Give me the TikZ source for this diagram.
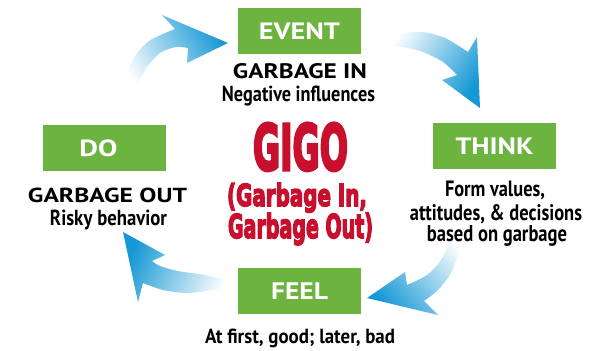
\documentclass[tikz,border=0pt]{standalone}
\usepackage{graphicx}
\usepackage{fontspec}
\setmainfont{PT Sans}
\newfontfamily\gigofont[FakeBold=5]{DejaVu Sans Bold}
\definecolor{boxgreen}{RGB}{109,179,63}
\definecolor{arrowblue}{RGB}{22,152,213}
\definecolor{gigored}{RGB}{200,16,46}
\newcommand\fitbox[3]{\resizebox{#1}{#2}{#3}}
\tikzset{
  gbox/.style={fill=boxgreen, text=white, inner sep=0pt, minimum width=123pt, minimum height=46pt, font=\bfseries},
  txt/.style={inner sep=0pt, anchor=base, font=\bfseries},
  gigotxt/.style={inner sep=0pt, anchor=base, text=gigored, font=\gigofont},
  arrowfill/.style={top color=arrowblue, bottom color=white, shading angle=#1},
}
\begin{document}
\begin{tikzpicture}[x=1pt,y=-1pt]
\useasboundingbox (0,0) rectangle (601,350);
% arrows
\shade[arrowfill=-59] (127,104) -- plot[smooth] coordinates {(126,95) (126,78) (133,59) (149,41) (175,29)}
  -- (162,15) -- (228,43) -- (187,63) -- (188,48)
  -- plot[smooth] coordinates {(188,48) (176,47) (160,53) (147,67) (138,84) (130,100)} -- cycle;
\shade[arrowfill=-123] (379,44) -- plot[smooth] coordinates {(380,42) (400,34) (422,32) (445,38) (468,52)}
  -- (477,37) -- (480,108) -- (442,80) -- (457,75)
  -- plot[smooth] coordinates {(457,75) (443,62) (423,52) (402,47) (381,46)} -- cycle;
\shade[arrowfill=130] (458,219) -- plot[smooth] coordinates {(461,222) (459,250) (451,273) (438,290) (424,301)}
  -- (438,315) -- (367,298) -- (405,272) -- (407,285)
  -- plot[smooth] coordinates {(407,285) (427,275) (441,260) (450,240) (455,222)} -- cycle;
\shade[arrowfill=66] (234,283) -- plot[smooth] coordinates {(232,281) (205,275) (178,271) (160,266) (152,261)}
  -- (165,255) -- (123,232) -- (138,302) -- (143,283)
  -- plot[smooth] coordinates {(143,283) (163,290) (187,293) (213,290) (232,285)} -- cycle;
% boxes
\node[gbox] (event) at (299.5,31) {\fitbox{81pt}{16.7pt}{EVENT}};
\node[gbox] (do) at (104.5,148) {\hspace*{-12pt}\fitbox{38pt}{16.7pt}{DO}};
\node[gbox] (think) at (494.5,146) {\fitbox{78pt}{16.7pt}{THINK}};
\node[gbox] (feel) at (299.5,291) {\fitbox{57pt}{16.7pt}{FEEL}};
% texts
\node[txt] (gin) at (300,78) {\fitbox{134pt}{15pt}{GARBAGE IN}};
\node[txt] (neg) at (298.5,101.7) {\fitbox{153pt}{15.5pt}{Negative influences}};
\node[txt] (gout) at (107.5,202.7) {\fitbox{159pt}{14.5pt}{GARBAGE OUT}};
\node[txt] (risky) at (108.5,225) {\fitbox{117pt}{15.5pt}{Risky behavior}};
\node[txt] (form1) at (495,196.7) {\fitbox{100pt}{15.5pt}{Form values,}};
\node[txt] (form2) at (496,220) {\fitbox{172pt}{16pt}{attitudes, \& decisions}};
\node[txt] (form3) at (497,241.7) {\fitbox{140pt}{16pt}{based on garbage}};
\node[txt] (feeltxt) at (300,343) {\fitbox{190pt}{14.5pt}{At first, good; later, bad}};
% GIGO
\node[gigotxt] (gigo) at (300.5,170) {\fitbox{95pt}{47pt}{GIGO}};
\node[gigotxt] (gigo2) at (297,206) {\fitbox{140pt}{23pt}{(Garbage In,}};
\node[gigotxt] (gigo3) at (300.5,238) {\fitbox{145pt}{25pt}{Garbage Out)}};
\end{tikzpicture}
\end{document}
